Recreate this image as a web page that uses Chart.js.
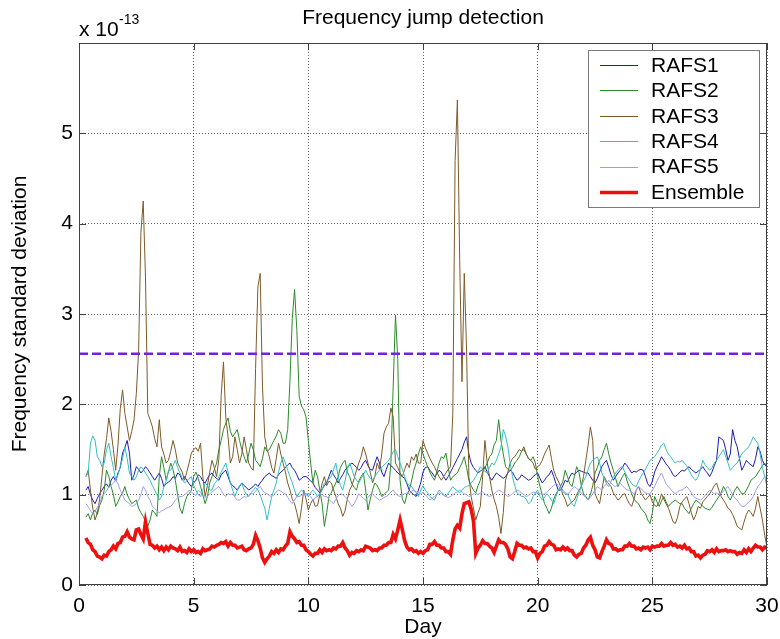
<!DOCTYPE html>
<html>
<head>
<meta charset="utf-8">
<script src="https://cdn.jsdelivr.net/npm/chart.js@4.4.1/dist/chart.umd.min.js"></script>
<style>
html,body{margin:0;padding:0;background:#fff;}
#wrap{width:780px;height:639px;position:relative;}
</style>
</head>
<body>
<div id="wrap"><canvas id="c" width="780" height="639"></canvas></div>
<script>
// ---- data (values in units of 1e-13), sampled every 0.1 day from day 0.3 to 30.0 ----
const START_DAY = 0.3;
const STEP_DAY = 0.1;
const seriesNames = ['RAFS1', 'RAFS2', 'RAFS3', 'RAFS4', 'RAFS5', 'Ensemble'];
const xTicks = [0, 5, 10, 15, 20, 25, 30];
const yTicks = [0, 1, 2, 3, 4, 5, 6];
const threshold = 2.56;

const rafs1 = [
1.05,1.09,1.00,0.94,0.90,0.96,1.01,
1.05,1.09,1.12,1.08,1.16,1.20,1.15,1.24,1.30,1.46,
1.52,1.60,1.46,1.16,1.22,1.31,1.28,1.24,1.27,1.31,
1.28,1.24,1.20,1.16,1.20,1.24,1.18,1.09,1.12,1.14,
1.16,1.20,1.18,1.24,1.22,1.16,1.20,1.16,1.12,1.09,
1.13,1.16,1.22,1.20,1.15,1.13,1.18,1.22,1.24,1.20,
1.18,1.16,1.22,1.25,1.27,1.20,1.13,1.10,1.08,1.05,
1.09,1.13,1.10,1.08,1.05,1.07,1.09,1.12,1.09,1.13,
1.16,1.20,1.22,1.24,1.21,1.20,1.18,1.22,1.25,1.27,
1.30,1.33,1.35,1.30,1.27,1.22,1.16,1.18,1.20,1.20,
1.18,1.15,1.13,1.08,1.05,1.02,1.06,1.10,1.13,1.20,
1.27,1.22,1.18,1.13,1.18,1.22,1.27,1.30,1.33,1.35,
1.33,1.30,1.27,1.30,1.35,1.38,1.32,1.28,1.27,1.35,
1.42,1.35,1.25,1.20,1.28,1.35,1.32,1.30,1.27,1.24,
1.22,1.20,1.18,1.12,1.05,1.02,1.00,0.98,1.05,1.13,
1.25,1.30,1.31,1.27,1.24,1.20,1.23,1.27,1.25,1.20,
1.16,1.20,1.25,1.30,1.35,1.40,1.45,1.50,1.58,1.64,
1.45,1.35,1.30,1.27,1.24,1.26,1.28,1.31,1.25,1.20,
1.16,1.20,1.24,1.22,1.20,1.18,1.20,1.24,1.27,1.25,
1.20,1.16,1.18,1.22,1.20,1.18,1.16,1.17,1.20,1.22,
1.24,1.18,1.13,1.16,1.20,1.22,1.27,1.20,1.12,1.05,
1.05,1.10,1.16,1.14,1.20,1.24,1.22,1.25,1.27,1.26,
1.25,1.24,1.24,1.20,1.16,1.13,1.18,1.25,1.31,1.35,
1.38,1.30,1.22,1.16,1.20,1.24,1.27,1.30,1.35,1.32,
1.28,1.24,1.26,1.25,1.27,1.28,1.27,1.20,1.12,1.09,
1.15,1.25,1.31,1.36,1.42,1.38,1.34,1.31,1.27,1.22,
1.20,1.22,1.25,1.27,1.26,1.29,1.31,1.28,1.26,1.24,
1.26,1.28,1.31,1.27,1.24,1.20,1.25,1.32,1.38,1.64,
1.62,1.60,1.50,1.38,1.45,1.72,1.60,1.53,1.40,1.27,
1.32,1.38,1.35,1.33,1.31,1.40,1.53,1.48,1.38,1.33,
1.31];

const rafs2 = [
0.75,0.79,0.72,0.80,0.83,0.78,0.88,
0.94,1.05,1.27,1.20,1.09,1.00,0.87,0.92,0.98,1.02,
1.09,1.00,0.95,0.90,0.92,0.94,0.85,0.80,0.76,0.70,
0.65,0.72,0.83,0.80,0.76,1.20,1.42,1.30,1.16,1.25,
1.35,1.28,1.16,1.00,0.85,0.79,0.90,0.98,1.01,1.05,
1.20,1.25,1.18,1.09,1.00,0.90,0.98,1.13,1.20,1.28,
1.35,1.50,1.60,1.72,1.79,1.85,1.70,1.64,1.68,1.72,
1.60,1.50,1.42,1.35,1.45,1.57,1.50,1.38,1.35,1.31,
1.40,1.53,1.48,1.50,1.55,1.60,1.65,1.72,1.68,1.57,
1.57,1.72,2.27,2.95,3.27,2.82,2.09,1.98,1.94,1.86,
1.60,1.35,1.13,1.27,1.20,1.05,0.90,0.65,0.80,0.98,
1.02,1.08,1.13,1.20,1.30,1.35,1.38,1.25,1.20,1.12,
1.08,1.05,1.15,1.20,1.24,1.05,0.83,0.95,1.05,1.13,
1.10,1.05,0.98,1.00,1.03,1.05,1.35,2.20,2.99,2.50,
1.16,0.95,0.90,1.00,1.05,1.15,1.27,1.35,1.45,1.53,
1.45,1.38,1.31,1.25,1.20,1.16,1.25,1.35,1.42,1.40,
1.46,1.30,1.16,1.20,1.22,1.24,1.30,1.35,1.42,1.30,
1.16,1.10,1.05,1.02,1.10,1.16,1.25,1.30,1.35,1.42,
1.45,1.55,1.60,1.83,1.60,1.45,1.31,1.28,1.27,1.30,
1.35,1.38,1.42,1.48,1.50,1.45,1.40,1.38,1.42,1.35,
1.20,1.09,1.00,0.90,0.85,0.79,0.85,0.95,1.01,1.05,
1.09,1.15,1.27,1.20,1.12,1.09,1.20,1.31,1.25,1.10,
1.01,0.98,0.94,1.00,1.10,1.24,1.30,1.38,1.42,1.50,
1.57,1.45,1.35,1.27,1.18,1.09,1.15,1.20,1.24,1.15,
1.08,1.01,0.95,0.92,0.90,0.85,0.82,0.79,0.72,0.68,
0.80,0.98,0.92,0.87,0.93,0.98,0.92,0.87,0.90,0.92,
0.94,0.92,0.90,0.90,0.85,0.82,0.79,0.85,0.90,0.94,
0.92,0.90,0.87,0.85,0.84,0.83,0.86,0.90,0.94,0.98,
1.02,1.09,1.05,0.98,0.94,1.00,1.05,1.09,1.05,1.01,
1.01,1.05,1.10,1.16,1.18,1.20,1.24,1.28,1.32,1.35,
1.30];

const rafs3 = [
1.20,1.27,1.05,0.85,0.72,0.80,0.95,
1.20,1.45,1.62,1.85,1.70,1.50,1.27,1.55,1.95,2.16,
1.90,1.75,1.60,1.70,1.83,2.12,2.60,3.90,4.25,3.40,
1.90,1.83,1.75,1.62,1.53,1.83,1.53,1.45,1.35,1.38,
1.48,1.60,1.50,1.35,1.30,1.25,1.16,1.25,1.35,1.46,
1.50,1.52,1.48,1.57,1.20,0.98,1.10,1.25,1.38,1.30,
1.20,1.40,2.10,2.47,1.86,1.64,1.35,1.42,1.64,1.50,
1.35,1.45,1.64,1.50,1.35,1.30,1.27,2.40,3.30,3.45,
2.20,1.64,1.50,1.42,1.30,1.24,1.40,1.57,1.45,1.35,
1.25,1.13,1.05,0.95,0.90,0.80,0.68,0.85,1.05,0.95,
0.83,0.90,0.95,0.87,0.88,1.00,1.12,1.20,1.10,1.15,
1.13,1.05,0.98,0.90,0.85,0.76,0.82,0.95,1.05,1.10,
1.18,1.27,1.35,1.42,1.53,1.45,1.35,1.25,1.13,1.20,
1.35,1.28,1.45,1.68,1.75,1.79,1.96,1.86,1.35,1.30,
1.24,1.20,1.28,1.35,1.30,1.42,1.38,1.45,1.35,1.35,
1.60,1.52,1.46,1.40,1.35,1.31,1.25,1.20,1.16,1.20,
1.24,1.28,1.31,1.90,4.70,5.37,3.60,2.25,3.45,2.60,
1.20,0.98,0.85,0.72,0.80,0.87,1.20,1.60,1.35,1.20,
1.05,0.95,0.87,0.75,0.57,0.80,1.16,1.25,1.35,1.40,
1.42,1.46,1.50,1.48,1.53,1.45,1.40,1.38,1.35,1.28,
1.31,1.33,1.38,1.45,1.50,1.55,1.40,1.27,1.20,1.15,
1.09,1.00,0.95,0.87,0.90,0.92,0.94,1.00,1.05,1.09,
1.20,1.38,1.55,1.75,1.60,1.01,0.95,0.90,1.05,1.20,
1.15,1.12,1.09,1.02,0.98,0.94,0.96,1.00,1.01,0.95,
0.90,0.87,0.95,1.05,1.09,1.02,0.98,0.94,0.97,1.00,
0.92,0.88,0.87,0.92,1.01,0.95,0.90,0.85,0.78,0.70,
0.68,0.75,0.87,0.92,0.95,0.98,0.90,0.80,0.72,0.78,
0.87,0.85,0.92,0.95,0.98,1.01,1.05,1.10,1.13,1.05,
0.98,0.94,0.90,0.85,0.83,0.78,0.72,0.65,0.63,0.61,
0.70,0.78,0.83,0.80,0.76,0.85,0.98,0.85,0.72,0.55,
0.42];

const rafs4 = [
1.20,1.24,1.57,1.65,1.60,1.42,1.38,
1.31,1.35,1.50,1.57,1.42,1.30,1.16,1.22,1.31,1.40,
1.53,1.40,1.24,1.20,1.16,1.20,1.27,1.31,1.28,1.24,
1.20,1.16,1.10,1.05,1.00,0.94,0.98,1.09,1.15,1.27,
1.27,1.32,1.38,1.30,1.24,1.18,1.13,1.15,1.18,1.20,
1.10,1.05,1.00,0.98,1.05,1.13,1.10,1.05,1.05,1.12,
1.15,1.20,1.25,1.30,1.35,1.25,1.13,1.05,0.98,1.05,
1.10,1.13,1.05,1.00,0.98,1.02,1.05,1.08,1.05,1.00,
0.92,0.85,0.72,0.85,0.98,1.05,1.13,1.25,1.35,1.42,
1.35,1.27,1.20,1.13,1.05,0.98,1.02,1.05,1.03,1.00,
0.98,1.02,1.05,1.02,0.98,1.00,1.05,1.13,1.15,1.18,
1.20,1.28,1.35,1.20,1.10,1.05,1.15,1.28,1.35,1.28,
1.20,1.16,1.13,1.18,1.22,1.27,1.22,1.18,1.16,1.20,
1.24,1.27,1.30,1.33,1.35,1.38,1.42,1.48,1.50,1.42,
1.35,1.28,1.20,1.13,1.10,1.09,1.05,1.02,0.98,1.05,
1.10,1.05,1.02,0.98,0.96,0.94,1.00,1.05,1.03,1.00,
0.98,1.02,1.05,1.09,1.06,1.04,1.02,1.05,1.08,1.09,
1.10,1.13,1.16,1.20,1.25,1.31,1.28,1.26,1.24,1.30,
1.35,1.33,1.38,1.45,1.53,1.72,1.65,1.53,1.35,1.20,
1.10,1.02,1.00,0.98,0.98,0.95,0.90,0.92,0.98,1.02,
1.05,0.98,0.94,0.97,1.01,0.98,0.94,0.90,0.98,1.05,
1.09,1.05,1.02,1.01,0.95,0.90,0.87,0.95,1.02,1.09,
1.15,1.20,1.28,1.35,1.38,1.40,1.42,1.35,1.24,1.18,
1.12,1.09,1.15,1.20,1.24,1.27,1.30,1.31,1.25,1.20,
1.16,1.12,1.10,1.09,1.15,1.20,1.24,1.28,1.33,1.38,
1.40,1.42,1.46,1.50,1.55,1.57,1.50,1.45,1.42,1.38,
1.35,1.37,1.36,1.38,1.35,1.32,1.27,1.22,1.18,1.16,
1.20,1.28,1.38,1.33,1.30,1.27,1.30,1.35,1.38,1.42,
1.46,1.50,1.42,1.35,1.27,1.30,1.33,1.35,1.40,1.45,
1.48,1.50,1.53,1.58,1.64,1.60,1.57,1.45,1.30,1.20,
1.09];

const rafs5 = [
0.90,0.87,0.82,0.79,0.82,0.86,0.90,
0.98,1.01,1.04,1.09,1.10,1.13,1.16,1.12,1.05,1.00,
0.94,0.92,0.90,0.87,0.88,0.90,0.94,1.00,1.09,1.05,
0.98,0.94,0.87,0.85,0.82,0.80,0.82,0.83,0.85,0.86,
0.87,0.90,0.94,0.96,0.98,0.98,1.00,1.02,1.05,1.03,
1.01,0.99,1.05,1.03,0.98,0.97,0.98,1.01,1.03,1.05,
1.07,1.09,1.05,1.00,0.98,1.01,1.00,1.01,0.97,0.94,
0.94,0.96,0.98,0.97,0.99,1.01,1.01,1.04,1.07,1.09,
1.05,1.02,1.01,0.99,0.98,1.00,1.03,1.05,1.04,1.02,
1.01,0.97,0.93,0.90,0.94,0.98,0.98,0.99,1.00,1.01,
1.01,0.98,0.94,0.96,0.99,1.01,1.00,0.98,0.98,0.95,
0.92,0.90,0.95,0.99,1.01,1.00,0.98,0.95,0.91,0.87,
0.90,0.95,1.01,0.98,0.96,0.94,0.97,1.00,1.01,0.98,
0.96,0.94,0.95,0.97,0.98,1.00,1.03,1.05,1.02,0.99,
0.98,1.00,1.01,1.02,1.01,1.04,1.05,1.03,1.02,1.01,
1.03,1.00,0.97,0.94,0.96,0.98,1.00,1.02,1.01,0.99,
0.98,0.97,0.98,1.00,1.02,1.03,1.05,1.03,1.01,1.00,
0.98,0.99,1.01,1.02,1.00,1.02,1.03,1.01,0.99,0.98,
0.99,1.01,1.03,1.05,1.04,1.02,1.00,0.98,0.99,1.01,
1.03,1.05,1.04,1.02,1.00,0.98,0.99,1.01,1.03,1.02,
1.02,1.01,1.00,1.01,1.03,1.05,1.08,1.10,1.13,1.10,
1.06,1.03,1.01,1.00,1.03,1.06,1.09,1.07,1.05,1.02,
0.99,0.97,0.94,0.97,1.01,1.05,1.09,1.07,1.05,1.09,
1.12,1.16,1.13,1.10,1.09,1.11,1.13,1.10,1.07,1.05,
1.05,1.03,1.01,1.05,1.09,1.07,1.04,1.02,1.01,1.01,
1.05,1.09,1.15,1.20,1.24,1.18,1.12,1.09,1.06,1.03,
1.01,1.03,1.05,1.05,1.07,1.09,1.06,1.02,0.98,0.96,
0.95,0.94,0.96,0.99,1.02,1.05,1.03,1.01,1.02,1.01,
1.01,1.04,1.07,1.09,1.05,1.00,0.96,0.94,0.90,0.87,
0.87,0.89,0.92,0.94,0.98,1.04,1.09,1.12,1.16,1.20,
1.18];

const ensemble = [
0.52,0.47,0.45,0.39,0.37,0.32,0.31,
0.29,0.33,0.32,0.37,0.39,0.43,0.40,0.46,0.47,0.53,
0.54,0.59,0.53,0.51,0.50,0.61,0.62,0.56,0.51,0.70,
0.57,0.45,0.44,0.41,0.43,0.39,0.42,0.38,0.42,0.39,
0.43,0.41,0.40,0.38,0.42,0.37,0.38,0.36,0.40,0.37,
0.39,0.36,0.37,0.35,0.40,0.38,0.39,0.40,0.43,0.42,
0.44,0.45,0.47,0.46,0.48,0.43,0.47,0.44,0.44,0.41,
0.42,0.43,0.39,0.38,0.40,0.41,0.45,0.55,0.49,0.41,
0.30,0.25,0.29,0.32,0.37,0.35,0.39,0.36,0.40,0.39,
0.43,0.46,0.59,0.54,0.51,0.47,0.48,0.44,0.44,0.39,
0.37,0.34,0.32,0.35,0.35,0.39,0.36,0.40,0.38,0.39,
0.38,0.41,0.40,0.43,0.43,0.47,0.41,0.38,0.33,0.36,
0.35,0.38,0.37,0.39,0.38,0.43,0.42,0.41,0.38,0.39,
0.38,0.41,0.41,0.44,0.44,0.47,0.47,0.56,0.51,0.61,
0.72,0.61,0.49,0.42,0.39,0.40,0.37,0.38,0.35,0.37,
0.35,0.38,0.39,0.45,0.45,0.48,0.44,0.44,0.41,0.41,
0.37,0.37,0.34,0.50,0.62,0.66,0.63,0.79,0.90,0.91,
0.92,0.84,0.71,0.35,0.41,0.44,0.49,0.46,0.46,0.43,
0.41,0.36,0.43,0.50,0.47,0.47,0.45,0.40,0.31,0.29,
0.37,0.46,0.44,0.44,0.41,0.42,0.40,0.41,0.37,0.37,
0.30,0.35,0.37,0.43,0.44,0.48,0.45,0.44,0.39,0.40,
0.39,0.42,0.39,0.41,0.38,0.38,0.33,0.31,0.34,0.35,
0.41,0.44,0.50,0.53,0.44,0.39,0.31,0.30,0.37,0.43,
0.50,0.46,0.45,0.40,0.40,0.38,0.39,0.39,0.43,0.43,
0.46,0.43,0.43,0.40,0.41,0.39,0.42,0.41,0.42,0.39,
0.43,0.42,0.43,0.43,0.46,0.43,0.44,0.44,0.47,0.44,
0.45,0.42,0.43,0.41,0.44,0.40,0.41,0.37,0.37,0.32,
0.33,0.30,0.33,0.34,0.38,0.37,0.39,0.36,0.40,0.37,
0.38,0.38,0.39,0.37,0.38,0.37,0.37,0.34,0.36,0.35,
0.39,0.36,0.40,0.37,0.41,0.44,0.42,0.42,0.39,0.42,
0.41];

// sampling grid (day of each sample)
const days = ensemble.map((_, i) => +(START_DAY + i * STEP_DAY).toFixed(1));
const allSeries = [rafs1, rafs2, rafs3, rafs4, rafs5, ensemble];
const lengthsOk = allSeries.every(s => s.length === days.length);

const toXY = arr => arr.map((v, i) => ({x: days[i], y: v}));

const colors = ['#1c1cb4', '#2a8a2a', '#7d5a28', '#33bfc0', '#9d9df0', '#ee0f0f'];
const widths = [1, 1, 1, 1, 1, 3.6];
const orders = [7, 6, 5, 4, 3, 0];

const FONT = "'Liberation Sans', Arial, Helvetica, sans-serif";

const datasets = allSeries.map((s, k) => ({
  label: seriesNames[k],
  data: toXY(s),
  borderColor: colors[k],
  backgroundColor: colors[k],
  borderWidth: widths[k],
  pointRadius: 0,
  tension: 0,
  fill: false,
  order: orders[k]
}));
datasets.push({
  label: 'threshold',
  data: [{x: 0, y: threshold}, {x: 30, y: threshold}],
  borderColor: '#7322dc',
  borderWidth: 2.6,
  borderDash: [9, 4],
  pointRadius: 0,
  fill: false,
  order: 1
});

const deco = {
  id: 'deco',
  afterDraw(chart) {
    const {ctx, chartArea: a, scales: {x, y}} = chart;
    ctx.save();
    // axes box
    ctx.strokeStyle = '#404040';
    ctx.lineWidth = 1;
    ctx.setLineDash([]);
    ctx.strokeRect(a.left + 0.5, a.top + 0.5, a.right - a.left - 1, a.bottom - a.top - 1);
    // inward tick marks on all four sides
    const tl = 7;
    ctx.beginPath();
    xTicks.forEach(v => {
      const px = Math.round(x.getPixelForValue(v)) + 0.5;
      ctx.moveTo(px, a.bottom); ctx.lineTo(px, a.bottom - tl);
      ctx.moveTo(px, a.top); ctx.lineTo(px, a.top + tl);
    });
    yTicks.forEach(v => {
      const py = Math.round(y.getPixelForValue(v)) + 0.5;
      ctx.moveTo(a.left, py); ctx.lineTo(a.left + tl, py);
      ctx.moveTo(a.right, py); ctx.lineTo(a.right - tl, py);
    });
    ctx.stroke();

    // legend
    const lx1 = a.right - 8, ly0 = a.top + 7, lw = 171, lh = 157;
    const lx0 = lx1 - lw;
    ctx.fillStyle = '#fff';
    ctx.fillRect(lx0, ly0, lw, lh);
    ctx.strokeStyle = '#7a7a7a';
    ctx.strokeRect(lx0 + 0.5, ly0 + 0.5, lw, lh);
    ctx.font = '21px ' + FONT;
    ctx.textBaseline = 'middle';
    ctx.textAlign = 'left';
    seriesNames.forEach((name, k) => {
      const cy = ly0 + 15 + k * 25.4;
      ctx.strokeStyle = colors[k];
      ctx.lineWidth = widths[k];
      ctx.beginPath();
      ctx.moveTo(lx0 + 12, Math.round(cy) + 0.5);
      ctx.lineTo(lx0 + 50, Math.round(cy) + 0.5);
      ctx.stroke();
      ctx.fillStyle = '#000';
      ctx.fillText(name, lx0 + 63, cy + 1);
    });

    // title
    const cx = (a.left + a.right) / 2;
    ctx.fillStyle = '#000';
    ctx.textAlign = 'center';
    ctx.textBaseline = 'middle';
    ctx.font = '21px ' + FONT;
    ctx.fillText('Frequency jump detection', cx, 18);
    // x-axis title
    ctx.font = '21px ' + FONT;
    ctx.fillText('Day', cx, 627);
    // y-axis title
    ctx.save();
    ctx.translate(20, (a.top + a.bottom) / 2);
    ctx.rotate(-Math.PI / 2);
    ctx.fillText('Frequency standard deviation', 0, 0);
    ctx.restore();
    // exponent label
    ctx.textAlign = 'left';
    ctx.textBaseline = 'alphabetic';
    ctx.font = '21px ' + FONT;
    ctx.fillText('x 10', a.left, 36);
    ctx.font = '14px ' + FONT;
    ctx.fillText('-13', a.left + 40, 24);

    if (!lengthsOk) {
      ctx.fillStyle = 'red';
      ctx.fillText('LENGTH MISMATCH ' + allSeries.map(s => s.length).join(',') + ' vs ' + days.length, 200, 300);
    }
    ctx.restore();
  }
};

new Chart(document.getElementById('c'), {
  type: 'line',
  data: {datasets},
  options: {
    responsive: false,
    animation: false,
    devicePixelRatio: 1,
    layout: {padding: {left: 0, right: 13, top: 43, bottom: 0}},
    plugins: {legend: {display: false}, tooltip: {enabled: false}, title: {display: false}},
    elements: {line: {borderCapStyle: 'butt', borderJoinStyle: 'miter'}},
    scales: {
      x: {
        type: 'linear',
        min: 0, max: 30,
        afterBuildTicks: s => { s.ticks = xTicks.map(v => ({value: v})); },
        afterFit: s => { s.height = 54; s.paddingLeft = 0; s.paddingRight = 0; },
        grid: {display: true, drawTicks: false, color: 'rgba(0,0,0,0.6)', lineWidth: 1},
        border: {display: false, dash: [1, 2]},
        ticks: {color: '#000', font: {size: 21, family: FONT}, padding: 9, maxRotation: 0}
      },
      y: {
        type: 'linear',
        min: 0, max: 6,
        afterBuildTicks: s => { s.ticks = yTicks.map(v => ({value: v})); },
        afterFit: s => { s.width = 79; s.paddingTop = 0; s.paddingBottom = 0; },
        grid: {display: true, drawTicks: false, color: 'rgba(0,0,0,0.6)', lineWidth: 1},
        border: {display: false, dash: [1, 2]},
        ticks: {color: '#000', font: {size: 21, family: FONT}, padding: 6,
                callback: v => (v === 6 ? '' : String(v))}
      }
    }
  },
  plugins: [deco]
});
</script>
</body>
</html>
